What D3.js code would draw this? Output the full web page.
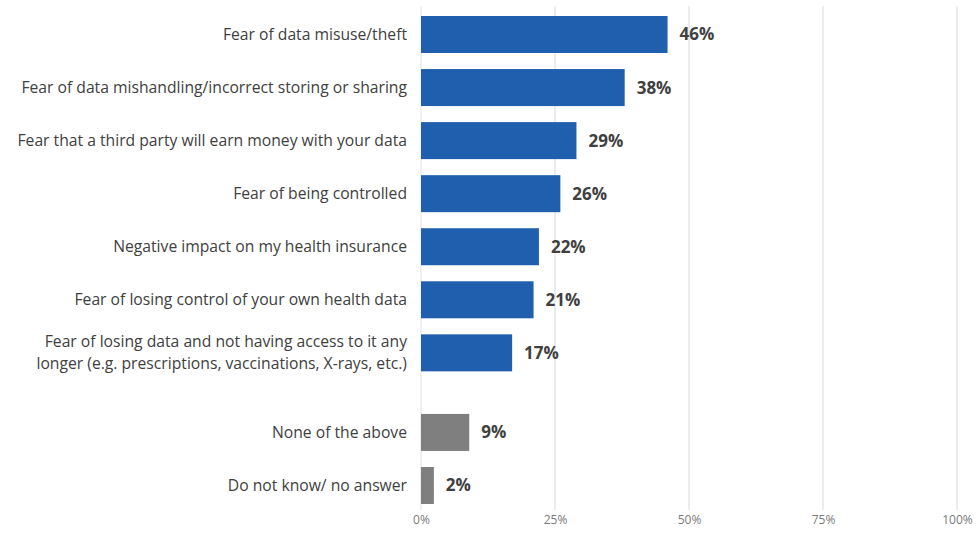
<!DOCTYPE html>
<html>
<head>
<meta charset="utf-8">
<script src="https://cdn.jsdelivr.net/npm/d3@7"></script>
<style>
  html, body { margin: 0; padding: 0; background: #fff; }
  svg { display: block; font-family: "Open Sans", sans-serif; }
</style>
</head>
<body>
<svg id="chart" width="978" height="533"></svg>
<script>
const categories = [
  ["Fear of data misuse/theft"],
  ["Fear of data mishandling/incorrect storing or sharing"],
  ["Fear that a third party will earn money with your data"],
  ["Fear of being controlled"],
  ["Negative impact on my health insurance"],
  ["Fear of losing control of your own health data"],
  ["Fear of losing data and not having access to it any", "longer (e.g. prescriptions, vaccinations, X-rays, etc.)"],
  ["None of the above"],
  ["Do not know/ no answer"]
];
const values = [46, 38, 29, 26, 22, 21, 17, 9, 2.4];
const groups = ["main", "main", "main", "main", "main", "main", "main", "other", "other"];
const tickValues = [0, 25, 50, 75, 100];

const colors = { main: "#1f5fad", other: "#7f7f7f" };

const svg = d3.select("#chart");
const x = d3.scaleLinear().domain([0, 100]).range([421, 957]);

// row position index, with a half-row gap before the "other" group
const pos = values.map((v, i) => i + (groups[i] === "other" ? 0.5 : 0));
const y = d3.scaleLinear().domain([0, 8.5]).range([34.5, 485.5]);
const barH = 37;

// gridlines
svg.append("g").selectAll("line")
  .data(tickValues)
  .join("line")
  .attr("x1", d => x(d)).attr("x2", d => x(d))
  .attr("y1", 6).attr("y2", 510)
  .attr("stroke", d => d === 0 ? "#e8dfd6" : "#d9d9d9")
  .attr("stroke-width", 1);

// axis
const axis = d3.axisBottom(x).tickValues(tickValues).tickFormat(d => d + "%").tickSize(0).tickPadding(0);
const ag = svg.append("g").attr("transform", "translate(0,515)").call(axis);
ag.select(".domain").remove();
ag.selectAll("text").attr("fill", "#7a7a7a").attr("font-size", "12px")
  .attr("font-family", "'Open Sans', sans-serif").attr("dy", "0.71em");

// bars
svg.append("g").selectAll("rect")
  .data(values)
  .join("rect")
  .attr("x", x(0))
  .attr("y", (d, i) => y(pos[i]) - barH / 2)
  .attr("width", d => x(d) - x(0))
  .attr("height", barH)
  .attr("fill", (d, i) => colors[groups[i]]);

// value labels
svg.append("g").selectAll("text")
  .data(values)
  .join("text")
  .attr("x", d => x(d) + 12)
  .attr("y", (d, i) => y(pos[i]))
  .attr("dy", "0.35em")
  .attr("font-size", "17px")
  .attr("font-weight", "bold")
  .attr("fill", "#404040")
  .text(d => Math.round(d) + "%");

// category labels
const lg = svg.append("g");
categories.forEach((lines, i) => {
  const cy = y(pos[i]);
  const lh = 22;
  const t = lg.append("text")
    .attr("x", 407)
    .attr("text-anchor", "end")
    .attr("font-size", "15.7px")
    .attr("fill", "#404040");
  lines.forEach((ln, j) => {
    t.append("tspan")
      .attr("x", 407)
      .attr("y", cy + (j - (lines.length - 1) / 2) * lh)
      .attr("dy", "0.35em")
      .text(ln);
  });
});
</script>
</body>
</html>
